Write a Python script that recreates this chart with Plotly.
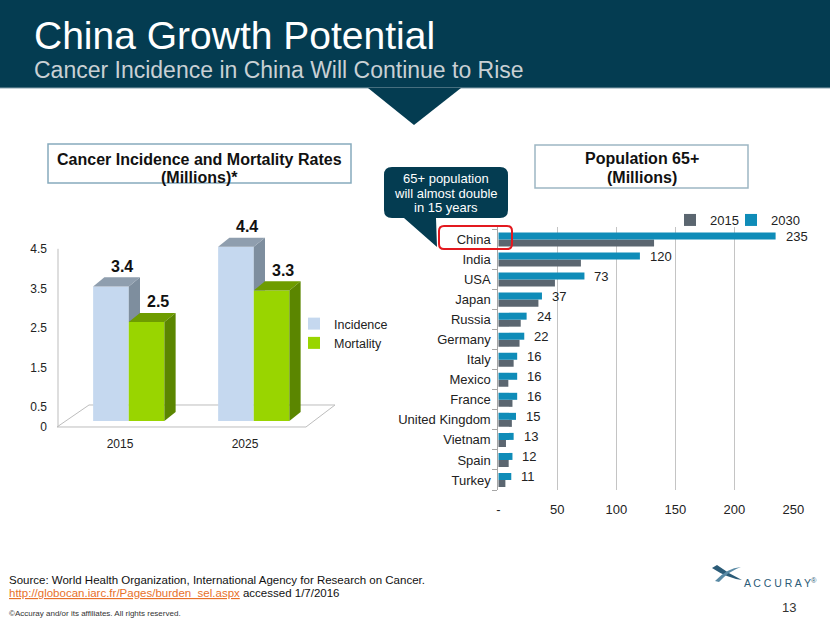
import plotly.graph_objects as go

W, H = 830, 623

def px(x):
    return x / W

def py(y):
    return 1 - y / H

def P(x, y):
    return f"{px(x):.5f},{py(y):.5f}"

# ---------------- data ----------------
left_years = ["2015", "2025"]
incidence = [3.4, 4.4]
mortality = [2.5, 3.3]
left_tick_vals = [0, 0.5, 1.5, 2.5, 3.5, 4.5]

countries = ["China", "India", "USA", "Japan", "Russia", "Germany", "Italy",
             "Mexico", "France", "United Kingdom", "Vietnam", "Spain", "Turkey"]
pop_2015 = [132, 70, 48, 34, 19, 18, 13, 8.5, 12, 11.5, 6.5, 8.8, 6]
pop_2030 = [235, 120, 73, 37, 24, 22, 16, 16, 16, 15, 13, 12, 11]
right_tick_vals = [0, 50, 100, 150, 200, 250]
right_tick_text = ["-", "50", "100", "150", "200", "250"]

# ---------------- style ----------------
FONT = "Liberation Sans, Arial, sans-serif"
DARK = "#043c51"
INC_FRONT, INC_TOP, INC_SIDE = "#c5d8ef", "#8f9eae", "#7e8e9e"
MOR_FRONT, MOR_TOP, MOR_SIDE = "#99d500", "#6e9c00", "#5b8600"
C2015, C2030 = "#5b6670", "#0f8cb8"

INC_OFF, MOR_OFF, BW = -0.215, 0.07, 0.285
DX, DY, BASE = 0.09, 0.23, 0.15

fig = go.Figure()

xpos = list(range(len(left_years)))

fig.add_trace(go.Bar(
    x=xpos, y=incidence, base=BASE, offset=INC_OFF, width=BW,
    marker=dict(color=INC_FRONT, line=dict(width=0)), name="Incidence",
    xaxis="x", yaxis="y", legend="legend", hoverinfo="skip"))
fig.add_trace(go.Bar(
    x=xpos, y=mortality, base=BASE, offset=MOR_OFF, width=BW,
    marker=dict(color=MOR_FRONT, line=dict(width=0)), name="Mortality",
    xaxis="x", yaxis="y", legend="legend", hoverinfo="skip"))

def poly(pts, color):
    xs = [p[0] for p in pts] + [pts[0][0]]
    ys = [p[1] for p in pts] + [pts[0][1]]
    fig.add_trace(go.Scatter(
        x=xs, y=ys, mode="lines", fill="toself", fillcolor=color,
        line=dict(width=0, color=color), showlegend=False, hoverinfo="skip",
        xaxis="x", yaxis="y"))

# 3D faces (top and side) of the left bars, computed from the data values
for i, xc in enumerate(xpos):
    x0 = xc + INC_OFF
    x1 = x0 + BW
    yt = BASE + incidence[i]
    ytm = BASE + mortality[i]
    poly([(x1, ytm), (x1, yt), (x1 + DX, yt + DY), (x1 + DX, ytm)], INC_SIDE)
    poly([(x0, yt), (x1, yt), (x1 + DX, yt + DY), (x0 + DX, yt + DY)], INC_TOP)
    m0 = xc + MOR_OFF
    m1 = m0 + BW
    poly([(m0, ytm), (m1, ytm), (m1 + DX, ytm + DY), (m0 + DX, ytm + DY)], MOR_TOP)
    poly([(m1, BASE), (m1, ytm), (m1 + DX, ytm + DY), (m1 + DX, BASE + DY)], MOR_SIDE)

fig.add_trace(go.Bar(
    y=countries, x=pop_2015, orientation="h", name="2015",
    marker=dict(color=C2015, line=dict(width=0)),
    xaxis="x2", yaxis="y2", legend="legend2", hoverinfo="skip"))
fig.add_trace(go.Bar(
    y=countries, x=pop_2030, orientation="h", name="2030",
    marker=dict(color=C2030, line=dict(width=0)),
    xaxis="x2", yaxis="y2", legend="legend3", hoverinfo="skip"))

annotations = []
for i, xc in enumerate(xpos):
    for off, vals in ((INC_OFF, incidence), (MOR_OFF, mortality)):
        annotations.append(dict(
            x=xc + off + BW / 2 + DX, y=BASE + vals[i] + DY, xref="x", yref="y",
            text=f"<b>{vals[i]}</b>", showarrow=False, yanchor="middle", yshift=11,
            font=dict(family=FONT, size=16, color="#111")))

for c, v in zip(countries, pop_2030):
    annotations.append(dict(
        x=v, y=c, xref="x2", yref="y2", text=str(v), showarrow=False,
        xanchor="left", yanchor="middle", xshift=8, yshift=3,
        font=dict(family=FONT, size=13, color="#222")))

def txt(x, y, s, size, color="#111", xanchor="center", bold=False):
    annotations.append(dict(
        x=px(x), y=py(y), xref="paper", yref="paper", text=(f"<b>{s}</b>" if bold else s),
        showarrow=False, xanchor=xanchor, yanchor="middle",
        font=dict(family=FONT, size=size, color=color)))

txt(32, 35, "China Growth Potential", 39, "#ffffff", "left")
txt(32, 70, "Cancer Incidence in China Will Continue to Rise", 23, "#c9d0d4", "left")
txt(199.5, 159, "Cancer Incidence and Mortality Rates", 16, "#111", bold=True)
txt(199.5, 177, "(Millions)*", 16, "#111", bold=True)
txt(641.5, 158, "Population 65+", 16, "#111", bold=True)
txt(641.5, 177, "(Millions)", 16, "#111", bold=True)
txt(446, 178, "65+ population", 13, "#ffffff")
txt(446, 193, "will almost double", 13, "#ffffff")
txt(446, 208, "in 15 years", 13, "#ffffff")
txt(7, 580, "Source: World Health Organization, International Agency for Research on Cancer.", 11.5, "#111", "left")
txt(7, 593, "<span style='color:#e8702a;text-decoration:underline'>http://globocan.iarc.fr/Pages/burden_sel.aspx</span> accessed 1/7/2016", 11.5, "#111", "left")
txt(7, 613, "©Accuray and/or its affiliates. All rights reserved.", 8, "#333", "left")
txt(789, 607, "13", 13, "#333")
txt(742, 582, "A C C U R A Y<sup>®</sup>", 10.5, "#2b5b77", "left")

shapes = [
    dict(type="rect", xref="paper", yref="paper", x0=0, x1=1, y0=py(88), y1=1,
         fillcolor=DARK, line=dict(width=0), layer="below"),
    dict(type="line", xref="paper", yref="paper", x0=0, x1=1, y0=py(88), y1=py(88),
         line=dict(color="#8aa2ad", width=1.2), layer="below"),
    dict(type="path", xref="paper", yref="paper",
         path=f"M{P(368,88)} L{P(461,88)} L{P(414,125)} Z",
         fillcolor=DARK, line=dict(width=0), layer="below"),
    dict(type="rect", xref="paper", yref="paper", x0=px(48), x1=px(351), y0=py(183), y1=py(144),
         fillcolor="white", line=dict(color="#86aabd", width=1.5), layer="below"),
    dict(type="rect", xref="paper", yref="paper", x0=px(535), x1=px(748), y0=py(188), y1=py(145),
         fillcolor="white", line=dict(color="#9db6c3", width=1.5), layer="below"),
    dict(type="path", xref="paper", yref="paper",
         path=(f"M{P(392,167)} L{P(500,167)} Q{P(508,167)} {P(508,175)} L{P(508,210)} "
               f"Q{P(508,218)} {P(500,218)} L{P(436,218)} L{P(437,247)} L{P(404,218)} "
               f"L{P(392,218)} Q{P(384,218)} {P(384,210)} L{P(384,175)} Q{P(384,167)} {P(392,167)} Z"),
         fillcolor=DARK, line=dict(width=0), layer="below"),
    dict(type="path", xref="paper", yref="paper",
         path=(f"M{P(444,226)} L{P(507,226)} Q{P(512,226)} {P(512,231)} L{P(512,244)} "
               f"Q{P(512,249)} {P(507,249)} L{P(444,249)} Q{P(439,249)} {P(439,244)} "
               f"L{P(439,231)} Q{P(439,226)} {P(444,226)} Z"),
         line=dict(color="#e3191f", width=2), layer="above"),
    dict(type="path", xref="paper", yref="paper",
         path=f"M{P(57,427)} L{P(306,427)} L{P(335,405)} L{P(89,405)} Z",
         fillcolor="white", line=dict(color="#bdbdbd", width=1), layer="below"),
    dict(type="line", xref="x domain", yref="y", x0=0, x1=0, y0=0, y1=4.5,
         line=dict(color="#bdbdbd", width=1), layer="below"),
    dict(type="path", xref="paper", yref="paper",
         path=f"M{P(712,568)} Q{P(727,578)} {P(742,580)} Q{P(729,574)} {P(717,565)} Z",
         fillcolor="#2b5b77", line=dict(width=0)),
    dict(type="path", xref="paper", yref="paper",
         path=f"M{P(715,581)} Q{P(727,568)} {P(741,567)} Q{P(729,571)} {P(719,582)} Z",
         fillcolor="#5a8aa5", line=dict(width=0)),
]

leg_common = dict(xanchor="left", yanchor="top", bgcolor="rgba(0,0,0,0)", borderwidth=0)

fig.update_layout(
    width=W, height=H, margin=dict(l=0, r=0, t=0, b=0, pad=0, autoexpand=False),
    paper_bgcolor="white", plot_bgcolor="rgba(0,0,0,0)",
    font=dict(family=FONT, color="#222"),
    barmode="group", bargap=0.3, bargroupgap=0,
    showlegend=True,
    xaxis=dict(domain=[px(58), px(307)], range=[-0.496, 1.496], tickvals=xpos,
               ticktext=left_years, showgrid=False, zeroline=False, showline=False,
               ticks="", tickfont=dict(size=12, color="#222"), ticklabelstandoff=8,
               anchor="y", fixedrange=True, automargin=False),
    yaxis=dict(domain=[py(427), py(229)], range=[0, 5], tickvals=left_tick_vals,
               ticktext=[str(v) for v in left_tick_vals], showgrid=False, zeroline=False,
               showline=False, ticks="", tickfont=dict(size=12, color="#222"),
               ticklabelstandoff=10, anchor="x", fixedrange=True, automargin=False),
    xaxis2=dict(domain=[px(498.3), px(793.3)], range=[0, 250], tickvals=right_tick_vals,
                ticktext=right_tick_text, showgrid=True, gridcolor="#c4c4c4", gridwidth=1,
                zeroline=False, showline=False, ticks="", tickfont=dict(size=13, color="#222"),
                ticklabelstandoff=10, anchor="y2", fixedrange=True, automargin=False),
    yaxis2=dict(domain=[py(490), py(227)], categoryorder="array",
                categoryarray=countries[::-1], showgrid=False, zeroline=False,
                showline=True, linecolor="#a6a6a6", ticks="outside", tickson="boundaries",
                ticklen=5, tickcolor="#a6a6a6", tickfont=dict(size=13, color="#222"),
                ticklabelstandoff=4, anchor="x2", fixedrange=True, automargin=False),
    legend=dict(x=px(294), y=py(309), font=dict(size=12.5, color="#222"), **leg_common),
    legend2=dict(x=px(670), y=py(205), font=dict(size=13, color="#222"), **leg_common),
    legend3=dict(x=px(731), y=py(205), font=dict(size=13, color="#222"), **leg_common),
    annotations=annotations, shapes=shapes,
)

fig.write_html("out.html", post_script="document.body.style.margin='0';",
               config={"displayModeBar": False})
